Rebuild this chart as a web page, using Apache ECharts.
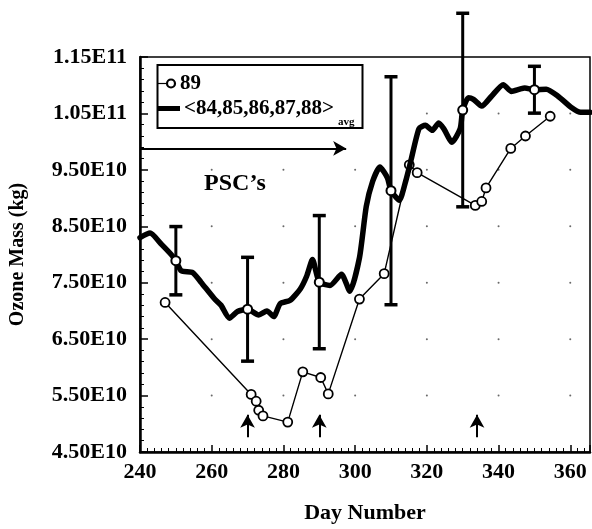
<!DOCTYPE html>
<html>
<head>
<meta charset="utf-8">
<script src="https://cdn.jsdelivr.net/npm/echarts@6/dist/echarts.min.js"></script>
<style>
html,body{margin:0;padding:0;background:#fff;}
#chart{width:592px;height:529px;}
</style>
</head>
<body>
<div id="chart"></div>
<script>
// ---- data ----
const days89 = [247, 271, 272.4, 273.1, 274.3, 281.2, 285.4, 290.4, 292.5, 301.2, 308.1, 315.1, 317.3, 333.5, 335.3, 336.5, 343.4, 347.5, 354.4];
const vals89 = [7.15e10, 5.52e10, 5.40e10, 5.24e10, 5.14e10, 5.03e10, 5.92e10, 5.82e10, 5.53e10, 7.21e10, 7.66e10, 9.59e10, 9.45e10, 8.87e10, 8.94e10, 9.18e10, 9.88e10, 10.10e10, 10.45e10];

const daysAvg = [240, 242.8, 246, 248.7, 250, 251.5, 254.7, 257, 260.7, 262.6, 264.9, 267.2, 270, 273.1, 275.4, 277.3, 279.1, 281.9, 284.7, 286.5, 288.1, 290, 293, 296.2, 298.5, 301.2, 303.1, 304.9, 306.9, 309, 310, 312.3, 314.1, 315.5, 317.8, 319.6, 321.5, 323.3, 324.7, 327, 329.3, 330, 331.6, 333, 335.3, 338.1, 341.3, 343.6, 345.9, 347.3, 350, 353.3, 356.5, 360.2, 362.9, 365.5];
const valsAvg = [8.30e10, 8.38e10, 8.18e10, 8.00e10, 7.89e10, 7.71e10, 7.68e10, 7.51e10, 7.22e10, 7.10e10, 6.87e10, 6.99e10, 7.03e10, 6.93e10, 7.00e10, 6.90e10, 7.13e10, 7.19e10, 7.39e10, 7.62e10, 7.91e10, 7.51e10, 7.45e10, 7.65e10, 7.35e10, 7.94e10, 8.85e10, 9.30e10, 9.55e10, 9.36e10, 9.13e10, 8.96e10, 9.30e10, 9.65e10, 10.23e10, 10.29e10, 10.20e10, 10.33e10, 10.23e10, 9.99e10, 10.23e10, 10.56e10, 10.78e10, 10.75e10, 10.63e10, 10.81e10, 11.01e10, 10.89e10, 10.93e10, 10.95e10, 10.92e10, 10.93e10, 10.81e10, 10.61e10, 10.52e10, 10.52e10];

const errDays = [250, 270, 290, 310, 330, 350];
const errCenter = [7.89e10, 7.03e10, 7.51e10, 9.13e10, 10.56e10, 10.92e10];
const errHalf = [0.605e10, 0.92e10, 1.18e10, 2.02e10, 1.715e10, 0.415e10];

const pscStartDay = 240, pscEndDay = 297.5, pscLevel = 9.88e10;
const arrowDays = [270, 290, 334];
const arrowFrom = 4.76e10, arrowTo = 5.16e10;

const yTickLabels = ['4.50E10', '5.50E10', '6.50E10', '7.50E10', '8.50E10', '9.50E10', '1.05E11', '1.15E11'];
const xGridDays = [260, 280, 300, 320, 340, 360];
const yGridVals = [5.5e10, 6.5e10, 7.5e10, 8.5e10, 9.5e10, 10.5e10];

const legendName89 = '89';
const legendNameAvg = '<84,85,86,87,88>';
const legendSub = 'avg';

// ---- build ----
const FONT = 'Liberation Serif';
const chart = echarts.init(document.getElementById('chart'), null, {renderer: 'canvas'});

const data89 = days89.map((d, i) => [d, vals89[i]]);
const dataAvg = daysAvg.map((d, i) => [d, valsAvg[i]]);
const dataErr = errDays.map((d, i) => [d, errCenter[i], errCenter[i] - errHalf[i], errCenter[i] + errHalf[i]]);
const dots = [];
xGridDays.forEach(x => yGridVals.forEach(y => dots.push([x, y])));

const option = {
  animation: false,
  backgroundColor: '#fff',
  grid: {left: 135.6, right: 2, top: 57, bottom: 69, show: true, borderColor: '#000', borderWidth: 1.5, backgroundColor: 'transparent'},
  xAxis: {
    type: 'value', min: 240, max: 365.5, interval: 20,
    name: 'Day Number', nameLocation: 'middle', nameGap: 50,
    nameTextStyle: {fontFamily: FONT, fontWeight: 'bold', fontSize: 22, color: '#000'},
    axisLine: {show: true, lineStyle: {color: '#000', width: 2.5}},
    axisTick: {show: true, inside: true, length: 7, lineStyle: {color: '#000', width: 1.5}},
    minorTick: {show: true, splitNumber: 10, length: 4, lineStyle: {color: '#000', width: 1}},
    axisLabel: {fontFamily: FONT, fontWeight: 'bold', fontSize: 22, color: '#000', margin: 9, showMaxLabel: false},
    splitLine: {show: false}
  },
  yAxis: {
    type: 'value', min: 4.5e10, max: 11.5e10, interval: 1e10,
    name: 'Ozone Mass (kg)', nameLocation: 'middle', nameGap: 112, nameRotate: 90,
    nameTextStyle: {fontFamily: FONT, fontWeight: 'bold', fontSize: 20, color: '#000'},
    axisLine: {show: true, lineStyle: {color: '#000', width: 2.5}},
    axisTick: {show: true, inside: true, length: 8, lineStyle: {color: '#000', width: 1.5}},
    minorTick: {show: true, splitNumber: 5, length: 4, lineStyle: {color: '#000', width: 1}},
    axisLabel: {fontFamily: FONT, fontWeight: 'bold', fontSize: 22, color: '#000', margin: 13,
      formatter: (v, i) => yTickLabels[i]},
    splitLine: {show: false}
  },
  series: [
    {
      type: 'scatter', data: dots, symbolSize: 2, itemStyle: {color: '#444'}, silent: true, z: 1
    },
    {
      name: legendName89, type: 'line', data: data89, z: 2,
      symbol: 'circle', symbolSize: 9, showAllSymbol: true,
      lineStyle: {color: '#000', width: 1.4},
      itemStyle: {color: '#fff', borderColor: '#000', borderWidth: 1.8}
    },
    {
      name: legendNameAvg, type: 'line', data: dataAvg, z: 3,
      symbol: 'none', smooth: 0.2,
      lineStyle: {color: '#000', width: 5.5, join: 'round', cap: 'round'}
    },
    {
      type: 'custom', data: dataErr, z: 4, clip: false,
      renderItem: function (params, api) {
        const x = api.value(0);
        const c = api.coord([x, api.value(1)]);
        const lo = api.coord([x, api.value(2)]);
        const hi = api.coord([x, api.value(3)]);
        const hw = 6.5;
        const st = {stroke: '#000', lineWidth: 3};
        return {
          type: 'group',
          children: [
            {type: 'line', shape: {x1: c[0], y1: lo[1], x2: c[0], y2: hi[1]}, style: st},
            {type: 'line', shape: {x1: c[0] - hw, y1: lo[1], x2: c[0] + hw, y2: lo[1]}, style: {stroke: '#000', lineWidth: 3.5}},
            {type: 'line', shape: {x1: c[0] - hw, y1: hi[1], x2: c[0] + hw, y2: hi[1]}, style: {stroke: '#000', lineWidth: 3.5}},
            {type: 'circle', shape: {cx: c[0], cy: c[1], r: 4.5}, style: {fill: '#fff', stroke: '#000', lineWidth: 2}}
          ]
        };
      }
    },
    {
      type: 'line', data: [], z: 5,
      markLine: {
        silent: true, animation: false,
        label: {show: false},
        lineStyle: {color: '#000', width: 2, type: 'solid'},
        symbol: ['none', 'arrow'], symbolSize: [11, 13],
        data: [
          [{coord: [pscStartDay, pscLevel]}, {coord: [pscEndDay, pscLevel]}]
        ].concat(arrowDays.map(d => [{coord: [d, arrowFrom]}, {coord: [d, arrowTo]}]))
      }
    }
  ],
  graphic: [
    {type: 'rect', shape: {x: 157.5, y: 65, width: 205, height: 63}, style: {fill: '#fff', stroke: '#000', lineWidth: 2}, z: 10},
    {type: 'circle', shape: {cx: 171, cy: 83.5, r: 4}, style: {fill: '#fff', stroke: '#000', lineWidth: 2.2}, z: 11},
    {type: 'line', shape: {x1: 158, y1: 83.5, x2: 166, y2: 83.5}, style: {stroke: '#000', lineWidth: 1.2}, z: 11},
    {type: 'text', x: 180, y: 83.5, style: {text: legendName89, fontFamily: FONT, fontWeight: 'bold', fontSize: 21, fill: '#000', verticalAlign: 'middle'}, z: 11},
    {type: 'line', shape: {x1: 158, y1: 108.5, x2: 180, y2: 108.5}, style: {stroke: '#000', lineWidth: 5}, z: 11},
    {type: 'text', x: 184, y: 109, style: {text: legendNameAvg, fontFamily: FONT, fontWeight: 'bold', fontSize: 21, fill: '#000', verticalAlign: 'middle'}, z: 11},
    {type: 'text', x: 338, y: 122, style: {text: legendSub, fontFamily: FONT, fontWeight: 'bold', fontSize: 11, fill: '#000', verticalAlign: 'middle'}, z: 11},
    {type: 'text', x: 235, y: 184, style: {text: 'PSC\u2019s', fontFamily: FONT, fontWeight: 'bold', fontSize: 24, fill: '#000', align: 'center', verticalAlign: 'middle'}, z: 11}
  ]
};
chart.setOption(option);
</script>
</body>
</html>
